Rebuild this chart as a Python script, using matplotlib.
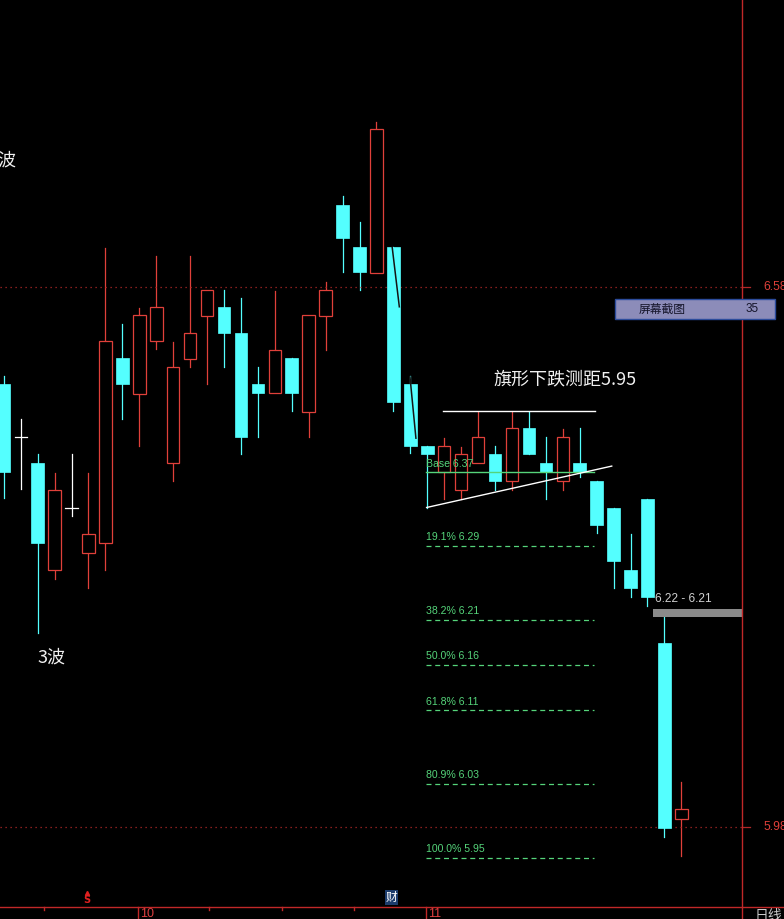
import matplotlib.pyplot as plt
from matplotlib.patches import Rectangle
from matplotlib.lines import Line2D
from matplotlib.transforms import blended_transform_factory

plt.rcParams['font.family'] = ['Noto Sans CJK SC', 'DejaVu Sans']

# daily bars, oldest first
opens = [6.472, 6.413, 6.384, 6.266, 6.334, 6.284, 6.296, 6.501, 6.461, 6.520,
         6.384, 6.500, 6.548, 6.558, 6.529, 6.472, 6.462, 6.501, 6.441, 6.548,
         6.671, 6.624, 6.596, 6.624, 6.472, 6.403, 6.374, 6.354, 6.384, 6.394,
         6.364, 6.423, 6.384, 6.364, 6.384, 6.364, 6.334, 6.266, 6.344, 6.184,
         5.989]
highs = [6.481, 6.433, 6.394, 6.373, 6.394, 6.373, 6.623, 6.539, 6.557, 6.614,
         6.519, 6.614, 6.577, 6.577, 6.568, 6.491, 6.576, 6.501, 6.549, 6.586,
         6.681, 6.652, 6.763, 6.624, 6.481, 6.403, 6.412, 6.402, 6.441, 6.403,
         6.441, 6.441, 6.413, 6.422, 6.423, 6.364, 6.334, 6.306, 6.344, 6.218,
         6.030]
lows = [6.346, 6.356, 6.196, 6.256, 6.326, 6.246, 6.266, 6.433, 6.403, 6.511,
        6.364, 6.491, 6.472, 6.491, 6.394, 6.413, 6.462, 6.442, 6.413, 6.510,
        6.597, 6.577, 6.596, 6.442, 6.396, 6.334, 6.344, 6.344, 6.384, 6.354,
        6.354, 6.394, 6.344, 6.354, 6.369, 6.307, 6.246, 6.236, 6.226, 5.969,
        5.948]
closes = [6.374, 6.413, 6.296, 6.354, 6.334, 6.306, 6.520, 6.472, 6.549, 6.558,
          6.491, 6.529, 6.577, 6.529, 6.413, 6.462, 6.510, 6.462, 6.549, 6.577,
          6.634, 6.597, 6.756, 6.452, 6.403, 6.394, 6.403, 6.394, 6.413, 6.364,
          6.423, 6.394, 6.374, 6.413, 6.374, 6.316, 6.276, 6.246, 6.236, 5.979,
          6.000]

# flag pattern drawn on the chart
flag_top = 6.442
flag_top_span = [25.9, 34.9]
flag_low_x = [24.96, 35.89]
flag_low_y = [6.335, 6.381]
wave_lines = [([22.93, 23.35], [6.624, 6.558]), ([23.98, 24.33], [6.480, 6.412])]

# fibonacci projection
fib_base = 6.374
fib_end = 5.946
fib_pcts = [19.1, 38.2, 50.0, 61.8, 80.9, 100.0]
fib_span = [24.92, 34.84]

axis_prices = [6.58, 5.98]
month_ticks = [8, 25]
month_labels = ['10', '11']
week_ticks = [2.4, 12.1, 16.45, 20.7]

zone_label = '6.22 - 6.21'
zone_start = 38.33

W, H = 784, 919
RED = '#e0403a'
CYAN = '#54ffff'
GRID = '#b02828'
GREEN = '#55d47a'

fig = plt.figure(figsize=(W / 100, H / 100), dpi=100, facecolor='black')
ax = fig.add_axes([0, 12 / H, 742 / W, 907 / H])
ax.set_facecolor('black')
ax.set_xlim(-0.224, 43.58)
ax.set_ylim(5.8911, 6.8989)
ax.axis('off')

# candles
bw = 0.74
for i in range(len(opens)):
    o, h, l, c = opens[i], highs[i], lows[i], closes[i]
    if c > o:
        ax.plot([i, i], [l, o], color=RED, lw=0.9)
        ax.plot([i, i], [c, h], color=RED, lw=0.9)
        ax.add_patch(Rectangle((i - bw / 2, o), bw, c - o, facecolor='black',
                               edgecolor=RED, lw=0.9, zorder=3))
    elif c < o:
        ax.plot([i, i], [l, h], color=CYAN, lw=0.9)
        ax.add_patch(Rectangle((i - bw / 2, c), bw, o - c, facecolor=CYAN,
                               edgecolor=CYAN, lw=0.5, zorder=3))
    else:
        ax.plot([i, i], [l, h], color='white', lw=0.9)
        ax.plot([i - 0.36, i + 0.36], [o, o], color='white', lw=0.9)

# price grid lines on the right axis
trans_r = blended_transform_factory(fig.transFigure, ax.transData)
for p in axis_prices:
    ax.axhline(p, color=GRID, ls=(0, (1, 3)), lw=0.9)
    ax.plot([742 / W, 750 / W], [p, p], color=GRID, lw=0.9, transform=trans_r, clip_on=False)
    ax.text(763 / W, p, f'{p:.2f}', color=RED, fontsize=8.8, family='Liberation Sans',
            va='center', ha='left', transform=trans_r, clip_on=False)

# flag lines
ax.plot(flag_top_span, [flag_top, flag_top], color='white', lw=1, zorder=4)
ax.plot(flag_low_x, flag_low_y, color='white', lw=1, zorder=5)
for xs, ys in wave_lines:
    ax.plot(xs, ys, color='#151515', lw=1.1, zorder=5)

# fibonacci lines
ax.plot(fib_span, [fib_base, fib_base], color=GREEN, lw=1, zorder=4)
ax.text(fib_span[0], fib_base + 0.004, f'Base {fib_base:.2f}', color=GREEN,
        fontsize=7.6, family='Liberation Sans', va='bottom', ha='left', zorder=6)
for pct in fib_pcts:
    lvl = fib_base - pct / 100 * (fib_base - fib_end)
    ax.plot(fib_span, [lvl, lvl], color=GREEN, lw=0.9, ls=(0, (4, 3)))
    ax.text(fib_span[0], lvl + 0.004, f'{pct:.1f}% {lvl:.2f}', color=GREEN,
            fontsize=7.6, family='Liberation Sans', va='bottom', ha='left')

# target zone bar
z_hi, z_lo = 6.222, 6.213
ax.add_patch(Rectangle((zone_start, z_lo), 43.58 - zone_start, z_hi - z_lo,
                       facecolor='#8a8a8a', edgecolor='none', zorder=6))
ax.text(zone_start + 0.1, z_hi + 0.005, zone_label, color='#d0d0d0', fontsize=8.6,
        family='Liberation Sans', va='bottom', ha='left', zorder=6)

# annotations
ax.text(-0.4, 6.721, '波', color='#f0f0f0', fontsize=13, va='center', ha='left')
fig.text(37 / W, 1 - 658 / H, '3波', color='#f0f0f0', fontsize=13, va='center', ha='left')
fig.text(493 / W, 1 - 379 / H, '旗形下跌测距5.95', color='#f0f0f0', fontsize=13,
         va='center', ha='left')

# screenshot tag
fig.add_artist(Rectangle((615 / W, 1 - 319 / H), 160 / W, 20 / H, transform=fig.transFigure,
                         facecolor='#8c8cb9', edgecolor='#2c4c9c', lw=1, zorder=8))
fig.text(639 / W, 1 - 309 / H, '屏幕截图', color='#15152a', fontsize=8.5, va='center',
         ha='left', zorder=9)
fig.text(746 / W, 1 - 309 / H, '35', color='#15152a', fontsize=8.5, va='center',
         ha='left', family='Liberation Sans', zorder=9)

# frame
fig.add_artist(Line2D([742 / W, 742 / W], [0, 1], transform=fig.transFigure, color='#c02828', lw=1))
fig.add_artist(Line2D([0, 1], [12 / H, 12 / H], transform=fig.transFigure, color='#c02828', lw=1))

# date axis
trans_b = blended_transform_factory(ax.transData, fig.transFigure)
for t, lab in zip(month_ticks, month_labels):
    ax.plot([t - 0.1, t - 0.1], [0, 12 / H], color='#c02828', lw=1, transform=trans_b, clip_on=False)
    ax.text(t + 0.05, 5 / H, lab, color='#e04040', fontsize=9, family='Liberation Sans',
            va='center', ha='left', transform=trans_b, clip_on=False)
for t in week_ticks:
    ax.plot([t, t], [9 / H, 12 / H], color='#c02828', lw=1, transform=trans_b, clip_on=False)

# event markers
ax.text(5 - 0.1, 14 / H, 'S', color='#e02020', fontsize=7, fontweight='bold',
        family='DejaVu Sans', va='bottom', ha='center', transform=trans_b, clip_on=False)
ax.plot([5 - 0.1], [26 / H], marker='^', ms=3, color='#e02020', transform=trans_b, clip_on=False)
ax.text(23 - 0.1, 15 / H, '财', color='white', fontsize=8.5, va='bottom', ha='center',
        transform=trans_b, clip_on=False,
        bbox=dict(boxstyle='square,pad=0.05', facecolor='#1c3c6c', edgecolor='none'))

fig.text(755 / W, 1 - 909 / H, '日线', color='#c8c8c8', fontsize=10, va='top', ha='left')

fig.savefig('out.png', dpi=100, facecolor='black')
